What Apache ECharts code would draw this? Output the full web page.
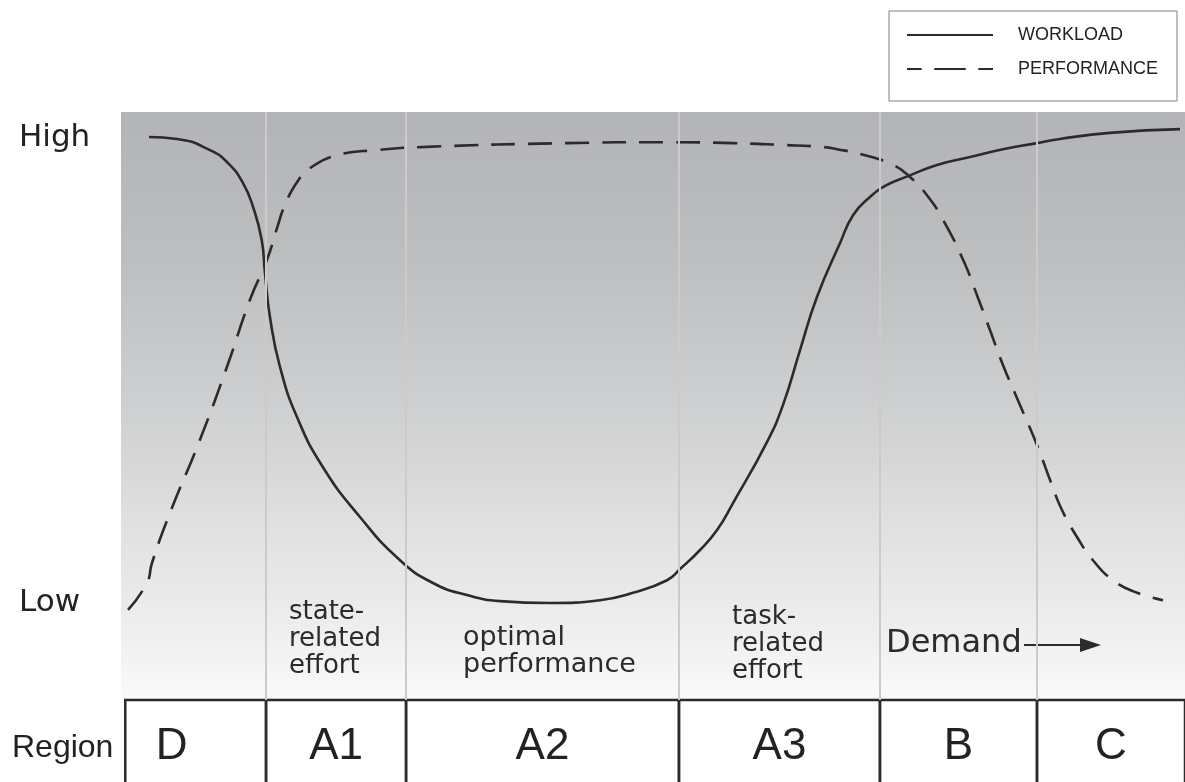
<!DOCTYPE html>
<html>
<head>
<meta charset="utf-8">
<script src="https://cdn.jsdelivr.net/npm/echarts@6/dist/echarts.min.js"></script>
<style>
  html, body { margin: 0; padding: 0; background: #ffffff; }
  #chart { width: 1185px; height: 782px; }
</style>
</head>
<body>
<div id="chart"></div>
<script>
// Demand runs 0..100 along x; arousal level runs Low (0) .. High (100) on y.
const seriesNames = ['WORKLOAD', 'PERFORMANCE'];
const levelLabels = { 0: 'Low', 100: 'High' };

// Region boundaries along the demand axis and their names
const regionEdges = [0.4, 13.63, 26.79, 52.44, 71.33, 86.09, 100];
const regionNames = ['D', 'A1', 'A2', 'A3', 'B', 'C'];

// Workload curve [demand, level]
const workload = [
  [2.63, 100.2], [5.26, 99.8], [8.36, 97.4], [10.06, 94.6], [11.47, 90.3],
  [12.41, 85.2], [13.22, 78.1], [13.53, 71.0], [14.0, 61.5], [14.94, 50.8],
  [16.54, 40.0], [18.98, 29.2], [22.46, 18.5], [26.22, 9.2], [29.32, 4.3],
  [32.52, 1.7], [35.62, 0.4], [40.32, 0.0], [45.02, 0.6], [48.12, 2.2],
  [51.32, 4.9], [52.54, 7.3], [54.42, 11.4], [56.02, 15.7], [57.52, 21.5],
  [60.71, 34.6], [62.22, 42.6], [63.82, 54.4], [65.41, 65.8], [67.58, 77.4],
  [68.80, 83.4], [70.39, 87.3], [71.99, 89.9], [73.97, 91.8], [76.69, 94.2],
  [79.79, 95.9], [82.89, 97.6], [86.09, 98.9], [88.25, 99.8], [92.95, 101.1],
  [99.53, 101.9]
];

// Performance curve [demand, level]
const performance = [
  [0.66, -1.5], [2.44, 4.3], [2.91, 8.6], [4.61, 19.4], [7.42, 35.1],
  [9.96, 50.8], [12.12, 65.2], [13.72, 73.8], [14.66, 80.6], [15.41, 85.6],
  [16.54, 90.5], [17.76, 93.5], [20.30, 96.3], [24.06, 97.4], [28.76, 98.1],
  [41.92, 98.9], [51.32, 99.1], [57.52, 98.9], [62.22, 98.5], [65.70, 98.1],
  [67.29, 97.6], [69.92, 96.3], [72.56, 94.2], [73.97, 92.0], [75.75, 87.7],
  [77.26, 82.4], [79.14, 73.8], [80.45, 66.2], [81.67, 58.7], [82.89, 51.2],
  [84.49, 42.6], [86.09, 34.0], [87.31, 26.5], [88.44, 20.0], [89.85, 14.2],
  [91.35, 9.2], [93.23, 4.9], [95.49, 2.2], [97.93, 0.6]
];

const ink = '#2b2b2b';
const chart = echarts.init(document.getElementById('chart'), null, { renderer: 'canvas' });

const regionCells = regionNames.map((name, i) => [regionEdges[i], regionEdges[i + 1], i]);

chart.setOption({
  animation: false,
  backgroundColor: '#ffffff',
  legend: {
    data: [
      { name: 'WORKLOAD', icon: 'path://M0,0H86V2H0Z' },
      { name: 'PERFORMANCE', icon: 'path://M0,0H14V2H0Z M26,0H56V2H26Z M68,0H82V2H68Z' }
    ],
    orient: 'vertical',
    left: 889,
    top: 11,
    padding: [14, 19, 22, 18],
    itemWidth: 86,
    itemHeight: 3,
    itemGap: 14,
    borderColor: '#808080',
    borderWidth: 1,
    textStyle: {
      fontFamily: 'Liberation Sans',
      fontSize: 18,
      lineHeight: 20,
      color: '#222',
      padding: [0, 0, 0, 20]
    }
  },
  grid: [
    {
      left: 121, right: 0, top: 112, height: 588,
      show: true,
      borderWidth: 0,
      backgroundColor: new echarts.graphic.LinearGradient(0, 0, 0, 1, [
        { offset: 0, color: '#b3b4b7' },
        { offset: 0.25, color: '#bdbec0' },
        { offset: 0.5, color: '#cecfd0' },
        { offset: 0.75, color: '#e4e4e5' },
        { offset: 0.9, color: '#f0f0f0' },
        { offset: 1, color: '#fafafa' }
      ])
    },
    { left: 121, right: 0, top: 700, bottom: 0 }
  ],
  xAxis: [
    { type: 'value', gridIndex: 0, min: 0, max: 100, show: false },
    { type: 'value', gridIndex: 1, min: 0, max: 100, show: false }
  ],
  yAxis: [
    {
      type: 'value', gridIndex: 0, min: -20.86, max: 105.59,
      axisLine: { show: false }, axisTick: { show: false }, splitLine: { show: false },
      axisLabel: {
        customValues: [0, 100],
        formatter: v => levelLabels[v] || '',
        fontFamily: 'DejaVu Sans',
        fontSize: 31,
        color: '#222',
        align: 'left',
        margin: 102
      }
    },
    {
      type: 'category', gridIndex: 1, data: ['Region'],
      axisLine: { show: false }, axisTick: { show: false }, splitLine: { show: false },
      axisLabel: {
        align: 'left',
        margin: 109,
        formatter: v => '{r|' + v + '}',
        rich: {
          r: {
            fontFamily: 'Liberation Sans',
            fontSize: 32,
            color: '#222',
            padding: [14, 0, 0, 0]
          }
        }
      }
    }
  ],
  series: [
    {
      // region dividers across the shaded plot
      type: 'line',
      data: [],
      silent: true,
      z: 1,
      markLine: {
        silent: true,
        symbol: 'none',
        label: { show: false },
        lineStyle: { color: '#cbcbcb', width: 2, type: 'solid' },
        data: regionEdges.slice(1, -1).map(x => ({ xAxis: x }))
      }
    },
    {
      name: 'WORKLOAD',
      type: 'line',
      data: workload,
      smooth: 0.5,
      symbol: 'none',
      z: 3,
      lineStyle: { color: ink, width: 2.6, type: 'solid' },
      itemStyle: { color: ink }
    },
    {
      name: 'PERFORMANCE',
      type: 'line',
      data: performance,
      smooth: 0.5,
      symbol: 'none',
      z: 3,
      lineStyle: { color: ink, width: 2.6, type: [24, 13] },
      itemStyle: { color: ink }
    },
    {
      // region table cells
      type: 'custom',
      xAxisIndex: 1,
      yAxisIndex: 1,
      data: regionCells,
      silent: true,
      renderItem: (params, api) => {
        const cs = params.coordSys;
        const a = api.coord([api.value(0), 0]);
        const b = api.coord([api.value(1), 0]);
        const idx = api.value(2);
        const shift = idx === 0 ? -24 : 0;
        return {
          type: 'group',
          children: [
            {
              type: 'rect',
              shape: { x: a[0], y: cs.y, width: b[0] - a[0], height: cs.height + 20 },
              style: { fill: 'none', stroke: ink, lineWidth: 2.5 }
            },
            {
              type: 'text',
              style: {
                text: regionNames[idx],
                x: (a[0] + b[0]) / 2 + shift,
                y: a[1] + 6,
                align: 'center',
                verticalAlign: 'middle',
                font: '44px "Liberation Sans"',
                fill: '#222'
              }
            }
          ]
        };
      }
    }
  ],
  graphic: [
    {
      type: 'text', left: 289, top: 599,
      style: { text: 'state-\nrelated\neffort', font: '26px "DejaVu Sans"', lineHeight: 27, fill: ink }
    },
    {
      type: 'text', left: 463, top: 624,
      style: { text: 'optimal\nperformance', font: '27px "DejaVu Sans"', lineHeight: 27, fill: ink }
    },
    {
      type: 'text', left: 732, top: 604,
      style: { text: 'task-\nrelated\neffort', font: '26px "DejaVu Sans"', lineHeight: 27, fill: ink }
    },
    {
      type: 'text', left: 886, top: 628,
      style: { text: 'Demand', font: '32px "DejaVu Sans"', fill: ink }
    },
    {
      type: 'line',
      shape: { x1: 1024, y1: 645, x2: 1084, y2: 645 },
      style: { stroke: ink, lineWidth: 2 }
    },
    {
      type: 'polygon',
      shape: { points: [[1080, 638], [1101, 645], [1080, 652]] },
      style: { fill: ink }
    }
  ]
});
</script>
</body>
</html>
